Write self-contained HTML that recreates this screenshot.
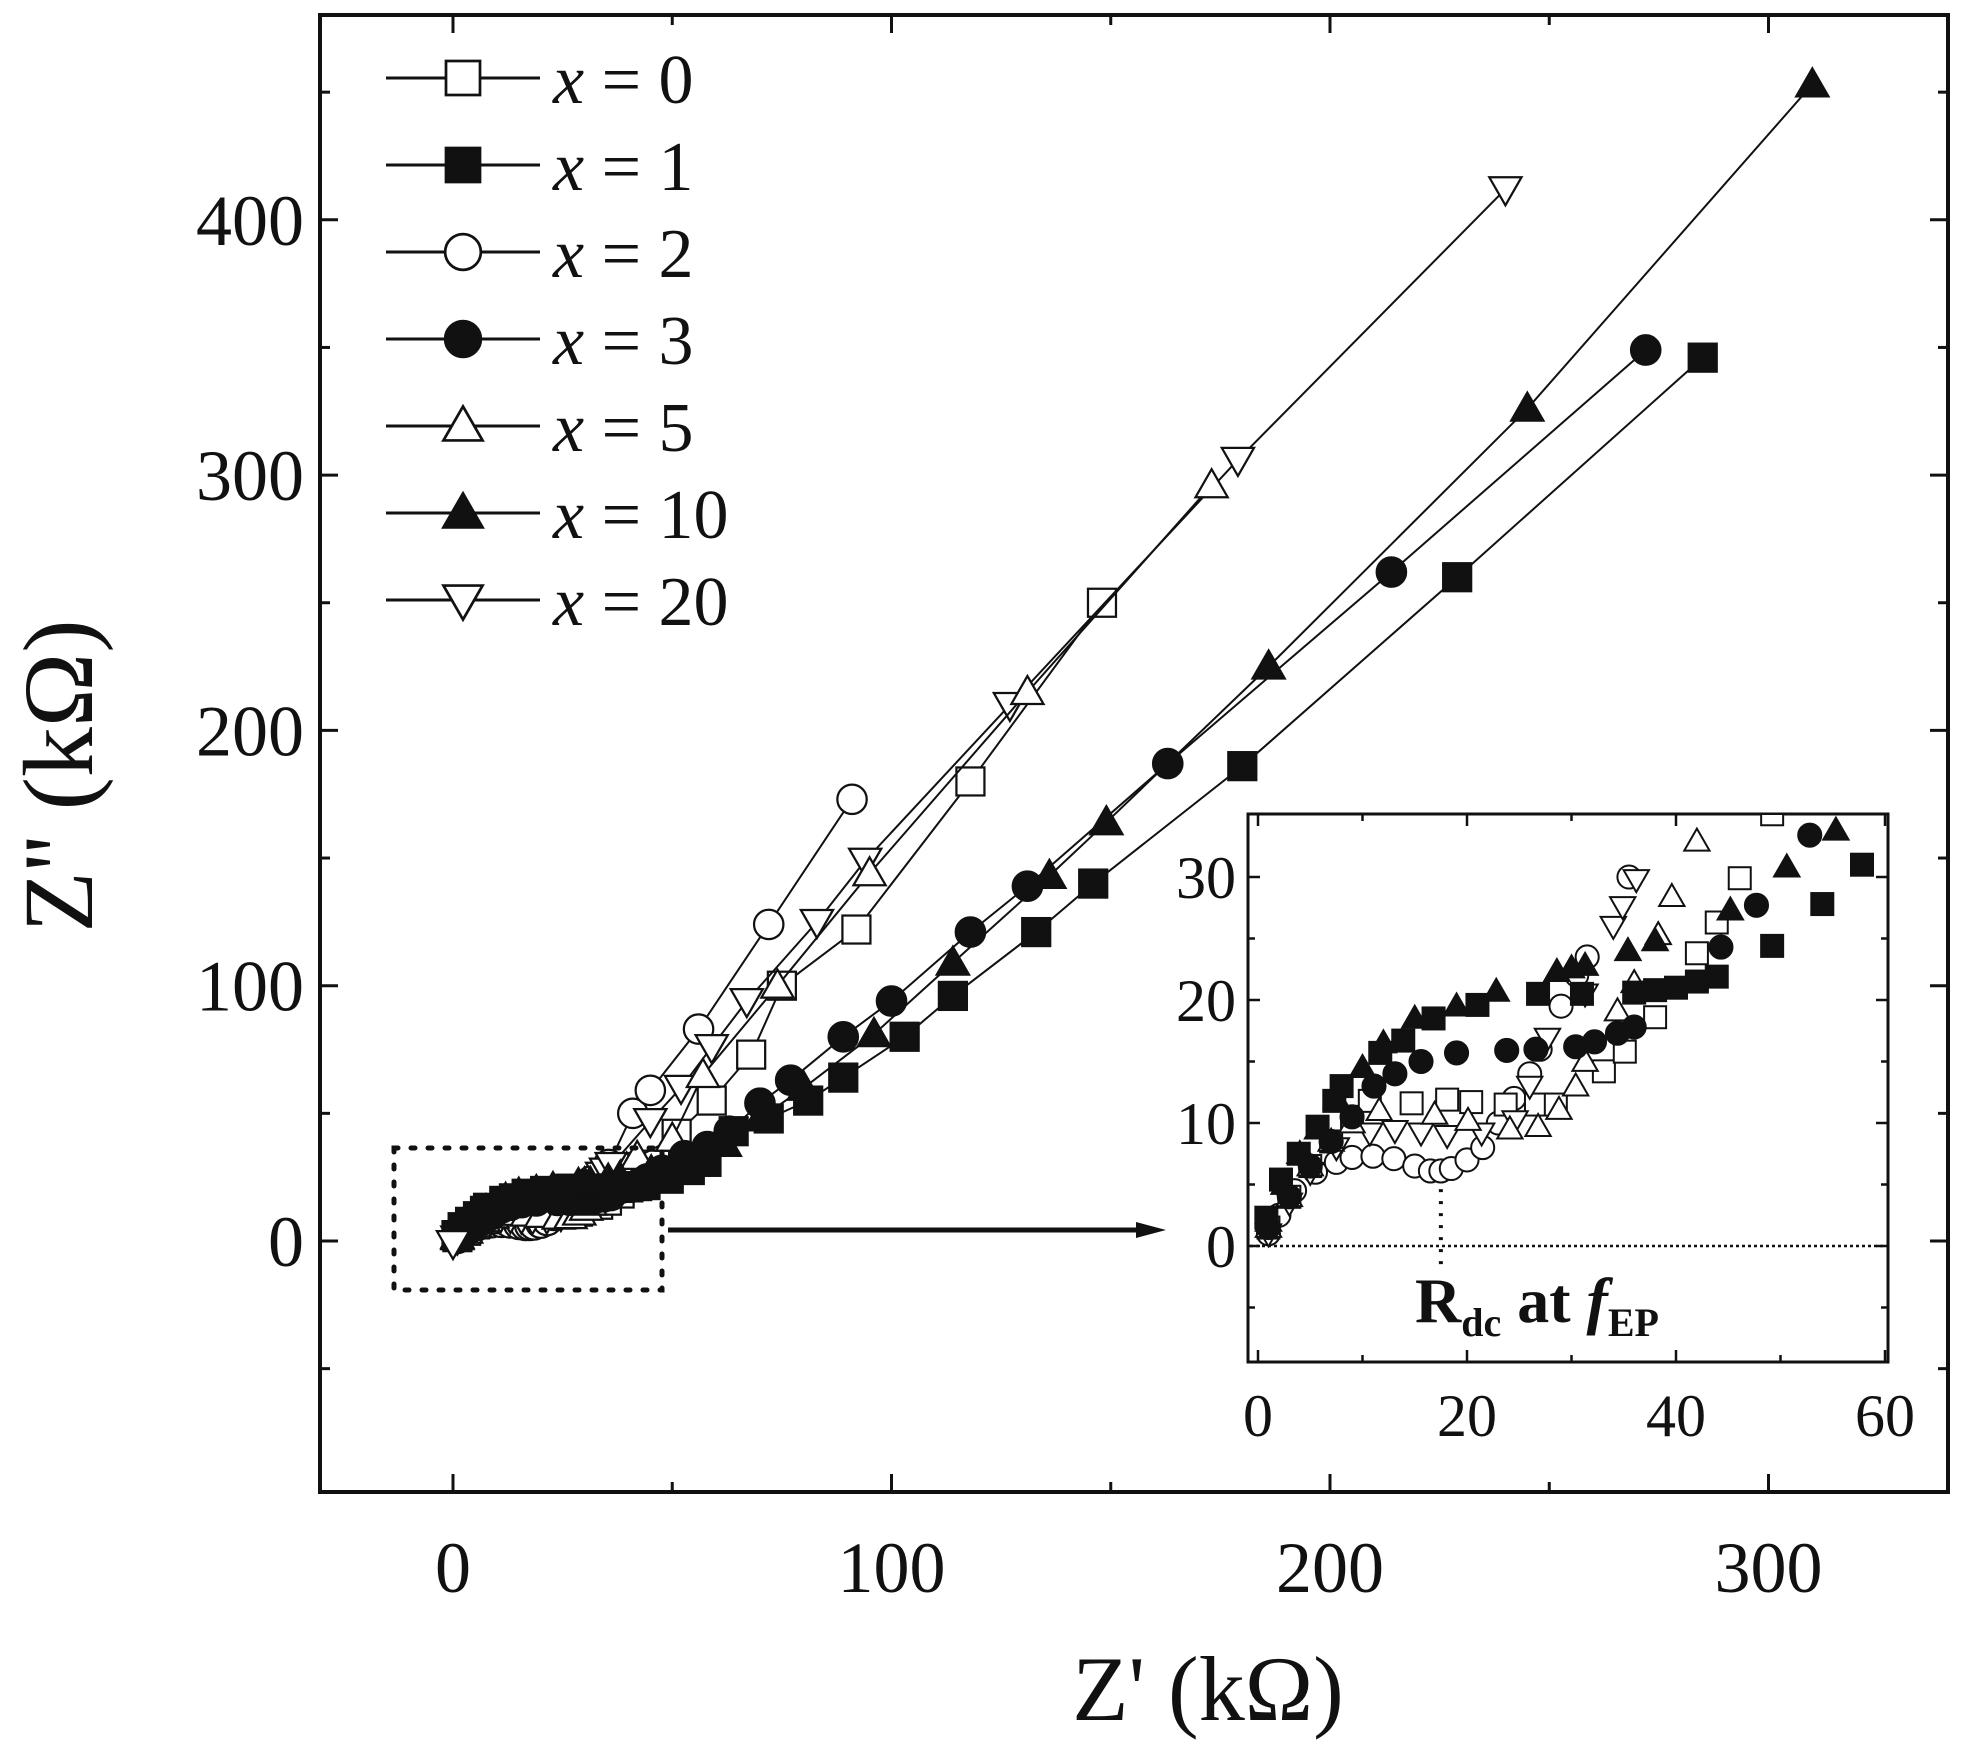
<!DOCTYPE html>
<html><head><meta charset="utf-8"><style>
html,body{margin:0;padding:0;background:#fff}
svg{display:block}
text{font-family:"Liberation Serif",serif;fill:#111}
</style></head><body>
<svg id="s" width="1963" height="1757" viewBox="0 0 1963 1757" xmlns="http://www.w3.org/2000/svg">
<rect x="0" y="0" width="1963" height="1757" fill="#fff"/>
<g id="main"></g>
<g id="ins"></g>
<g id="leg"></g>
<rect x="320" y="15" width="1628" height="1477" fill="none" stroke="#111" stroke-width="4"/>
<rect x="394" y="1148" width="268" height="142" fill="none" stroke="#111" stroke-width="5" stroke-dasharray="4,13" stroke-linecap="round"/>
<line x1="668" y1="1230" x2="1140" y2="1230" stroke="#111" stroke-width="5"/>
<polygon points="1166,1230 1136,1222 1136,1238" fill="#111"/>
<text x="1208" y="1720" font-size="92" text-anchor="middle">Z' (kΩ)</text>
<text transform="translate(92,776) rotate(-90)" font-size="100" text-anchor="middle">Z'' (kΩ)</text>
<text x="1415" y="1322" font-size="64" font-weight="bold">R<tspan font-size="40" dy="14">dc</tspan><tspan dy="-14"> at </tspan><tspan font-style="italic">f</tspan><tspan font-size="40" dy="14">EP</tspan></text>
</svg>
<script>
var NS="http://www.w3.org/2000/svg";
function el(p,t,a){var e=document.createElementNS(NS,t);for(var k in a)e.setAttribute(k,a[k]);p.appendChild(e);return e;}
function marker(g,type,x,y,r){
 var fill=(type==1||type==3||type==10)?"#111":"#fff";
 var sw=Math.max(2,r*0.16);
 if(type==0||type==1) el(g,"rect",{x:x-r,y:y-r,width:2*r,height:2*r,fill:fill,stroke:"#111","stroke-width":sw});
 else if(type==2||type==3) el(g,"circle",{cx:x,cy:y,r:r*1.05,fill:fill,stroke:"#111","stroke-width":sw});
 else if(type==5||type==10) el(g,"polygon",{points:(x)+","+(y-r*1.15)+" "+(x+r*1.15)+","+(y+r*0.85)+" "+(x-r*1.15)+","+(y+r*0.85),fill:fill,stroke:"#111","stroke-width":sw});
 else el(g,"polygon",{points:(x)+","+(y+r*1.15)+" "+(x+r*1.15)+","+(y-r*0.85)+" "+(x-r*1.15)+","+(y-r*0.85),fill:fill,stroke:"#111","stroke-width":sw});
}
var ID={
1:[[0.8,2.3],[2.2,5.4],[3.9,7.5],[5.7,9.7],[7.3,11.8],[8,13],[11.7,15.7],[13.9,16.7],[16.8,18.5],[21,19.6],[26.8,20.5],[31,20.5],[36,20.6],[38,20.8],[40,21],[42,21.5],[43.9,21.9],[49.2,24.4],[54,27.8],[57.8,31]],
10:[[1,2],[2.5,5],[4,7.5],[5.7,9.5],[7.5,12],[10,14.5],[12,16.5],[15,18.5],[19,19.5],[22.8,20.7],[28.6,22.3],[30,22.6],[31.3,22.8],[35.4,24],[38,24.8],[45.2,27.3],[50.6,30.8],[55.3,33.8]],
3:[[1,1.5],[3,4],[5,6.5],[7,8.5],[9,10.5],[11.1,13],[13.1,14],[15.6,15],[19,15.7],[23.8,15.9],[26.6,16],[30.4,16.2],[32.2,16.6],[34.4,17.3],[36,17.8],[44.3,24.3],[47.7,27.7],[52.8,33.4]],
0:[[1,1.5],[3,4],[5,6.5],[7,8.5],[9,10.5],[10.7,11.8],[14.7,11.6],[18.1,11.9],[20.4,11.7],[23.7,11.5],[26.6,11.5],[28.5,11.5],[33.1,14.2],[35.1,15.8],[38,18.6],[42,23.8],[43.9,26.3],[46.1,29.9],[49.2,35.1]],
5:[[1,1.5],[3,4],[5,6.5],[7,8.5],[9,10],[11.6,11],[16.9,10.7],[20.1,10.2],[24.1,9.5],[26.8,9.7],[28.8,11.1],[30.4,13],[31.3,15],[34.4,19.1],[36,21.4],[38.3,25.3],[39.6,28.4],[42,32.9]],
20:[[1,1],[3,3.5],[5,6],[7.5,8],[10.7,9.2],[13.1,9.4],[15.6,9.2],[18.1,9],[21.4,9.2],[24.6,10.2],[26,13],[27.7,16.9],[31.3,20.5],[34,26],[34.9,27.6],[36.2,29.8]],
2:[[1,1],[2,2.5],[3.5,4.5],[5.5,6],[7.5,6.8],[9,7.2],[11,7.3],[13,7.1],[15,6.5],[16.5,6.1],[17.5,6.1],[18.5,6.3],[20,7],[21.5,8],[23,10],[24.5,12],[26,14],[27,16],[29,19.5],[30.5,22],[31.5,23.5],[35.5,30]]
};
var MD={
0:[[51,42],[59,55],[68,73],[75,100],[92,122],[118,180],[148,250]],
1:[[64,43],[72,48],[81,55],[89,64],[103,80],[114,96],[133,121],[146,140],[180,186],[229,260],[285,346]],
2:[[41,50],[45,59],[56,83],[72,124],[91,173]],
3:[[58,37],[63,43],[70,54],[77,63],[89,80],[100,94],[118,121],[131,139],[163,187],[214,262],[272,349]],
5:[[50,40],[57,65],[74,100],[95,144],[131,215],[173,296]],
10:[[62,38],[70,48],[80,60],[96,81],[114,109],[136,143],[149,164],[186,225],[245,326],[310,453]],
20:[[45,47],[52,60],[59,76],[67,94],[83,125],[94,149],[127,210],[179,306],[240,412]]
};
var types=[0,1,2,3,5,10,20];
var g=document.getElementById("main");
function MX(v){return 453+v*4.385} function MY(v){return 1241-v*2.553}
for(var v=-50;v<=350;v+=50){var x=MX(v);if(x<322||x>1946)continue;var L=(v%100==0)?18:10;
 el(g,"line",{x1:x,y1:1492,x2:x,y2:1492-L,stroke:"#111","stroke-width":3});
 el(g,"line",{x1:x,y1:15,x2:x,y2:15+L,stroke:"#111","stroke-width":3});
 if(v%100==0){var t=el(g,"text",{x:x,y:1592,"font-size":72,"text-anchor":"middle"});t.textContent=v;}}
for(var v=-150;v<=450;v+=50){var y=MY(v);if(y<17||y>1490)continue;var L=(v%100==0)?18:10;
 el(g,"line",{x1:320,y1:y,x2:320+L,y2:y,stroke:"#111","stroke-width":3});
 el(g,"line",{x1:1948,y1:y,x2:1948-L,y2:y,stroke:"#111","stroke-width":3});
 if(v%100==0){var t=el(g,"text",{x:304,y:y+25,"font-size":72,"text-anchor":"end"});t.textContent=v;}}
var order=[2,0,20,5,1,3,10];
order.forEach(function(k){
 var pts=ID[k].filter(function(p){return p[0]<MD[k][0][0]-3}).concat(MD[k]);
 var d=pts.map(function(p,i){return (i?"L":"M")+MX(p[0]).toFixed(1)+","+MY(p[1]).toFixed(1)}).join(" ");
 el(g,"path",{d:d,fill:"none",stroke:"#111","stroke-width":2});
 pts.forEach(function(p){marker(g,k,MX(p[0]),MY(p[1]),14);});
});
marker(g,20,453,1243,14);
var gi=document.getElementById("ins");
function IX(v){return 1258+v*10.45} function IY(v){return 1246-v*12.3}
el(gi,"rect",{x:1248,y:814,width:640,height:548,fill:"#fff",stroke:"#111","stroke-width":3});
var cp=el(gi,"clipPath",{id:"cp"});el(cp,"rect",{x:1249,y:815,width:638,height:546});
for(var v=0;v<=60;v+=10){var x=IX(v);var L=(v%20==0)?12:7;
 el(gi,"line",{x1:x,y1:1362,x2:x,y2:1362-L,stroke:"#111","stroke-width":2.5});
 el(gi,"line",{x1:x,y1:814,x2:x,y2:814+L,stroke:"#111","stroke-width":2.5});
 if(v%20==0){var t=el(gi,"text",{x:x,y:1436,"font-size":60,"text-anchor":"middle"});t.textContent=v;}}
for(var v=-5;v<=35;v+=5){var y=IY(v);if(y<816||y>1360)continue;var L=(v%10==0)?12:7;
 el(gi,"line",{x1:1248,y1:y,x2:1248+L,y2:y,stroke:"#111","stroke-width":2.5});
 el(gi,"line",{x1:1888,y1:y,x2:1888-L,y2:y,stroke:"#111","stroke-width":2.5});
 if(v%10==0){var t=el(gi,"text",{x:1236,y:y+21,"font-size":60,"text-anchor":"end"});t.textContent=v;}}
el(gi,"line",{x1:1250,y1:IY(0),x2:1886,y2:IY(0),stroke:"#111","stroke-width":2.5,"stroke-dasharray":"3,3"});
el(gi,"line",{x1:IX(17.5),y1:IY(5.6),x2:IX(17.5),y2:IY(-1.5),stroke:"#111","stroke-width":4,"stroke-dasharray":"3,9"});
var gc=el(gi,"g",{"clip-path":"url(#cp)"});
order.forEach(function(k){ID[k].forEach(function(p){marker(gc,k,IX(p[0]),IY(p[1]),11);});});
var gl=document.getElementById("leg");
types.forEach(function(k,i){var y=78+i*87;
 el(gl,"line",{x1:386,y1:y,x2:540,y2:y,stroke:"#111","stroke-width":3});
 marker(gl,k,463,y,17);
 var t=el(gl,"text",{x:553,y:y+25,"font-size":70});
 var a=el(t,"tspan",{"font-style":"italic"});a.textContent="x";
 var b=el(t,"tspan",{});b.textContent=" = "+k;
});
</script>
</body></html>
